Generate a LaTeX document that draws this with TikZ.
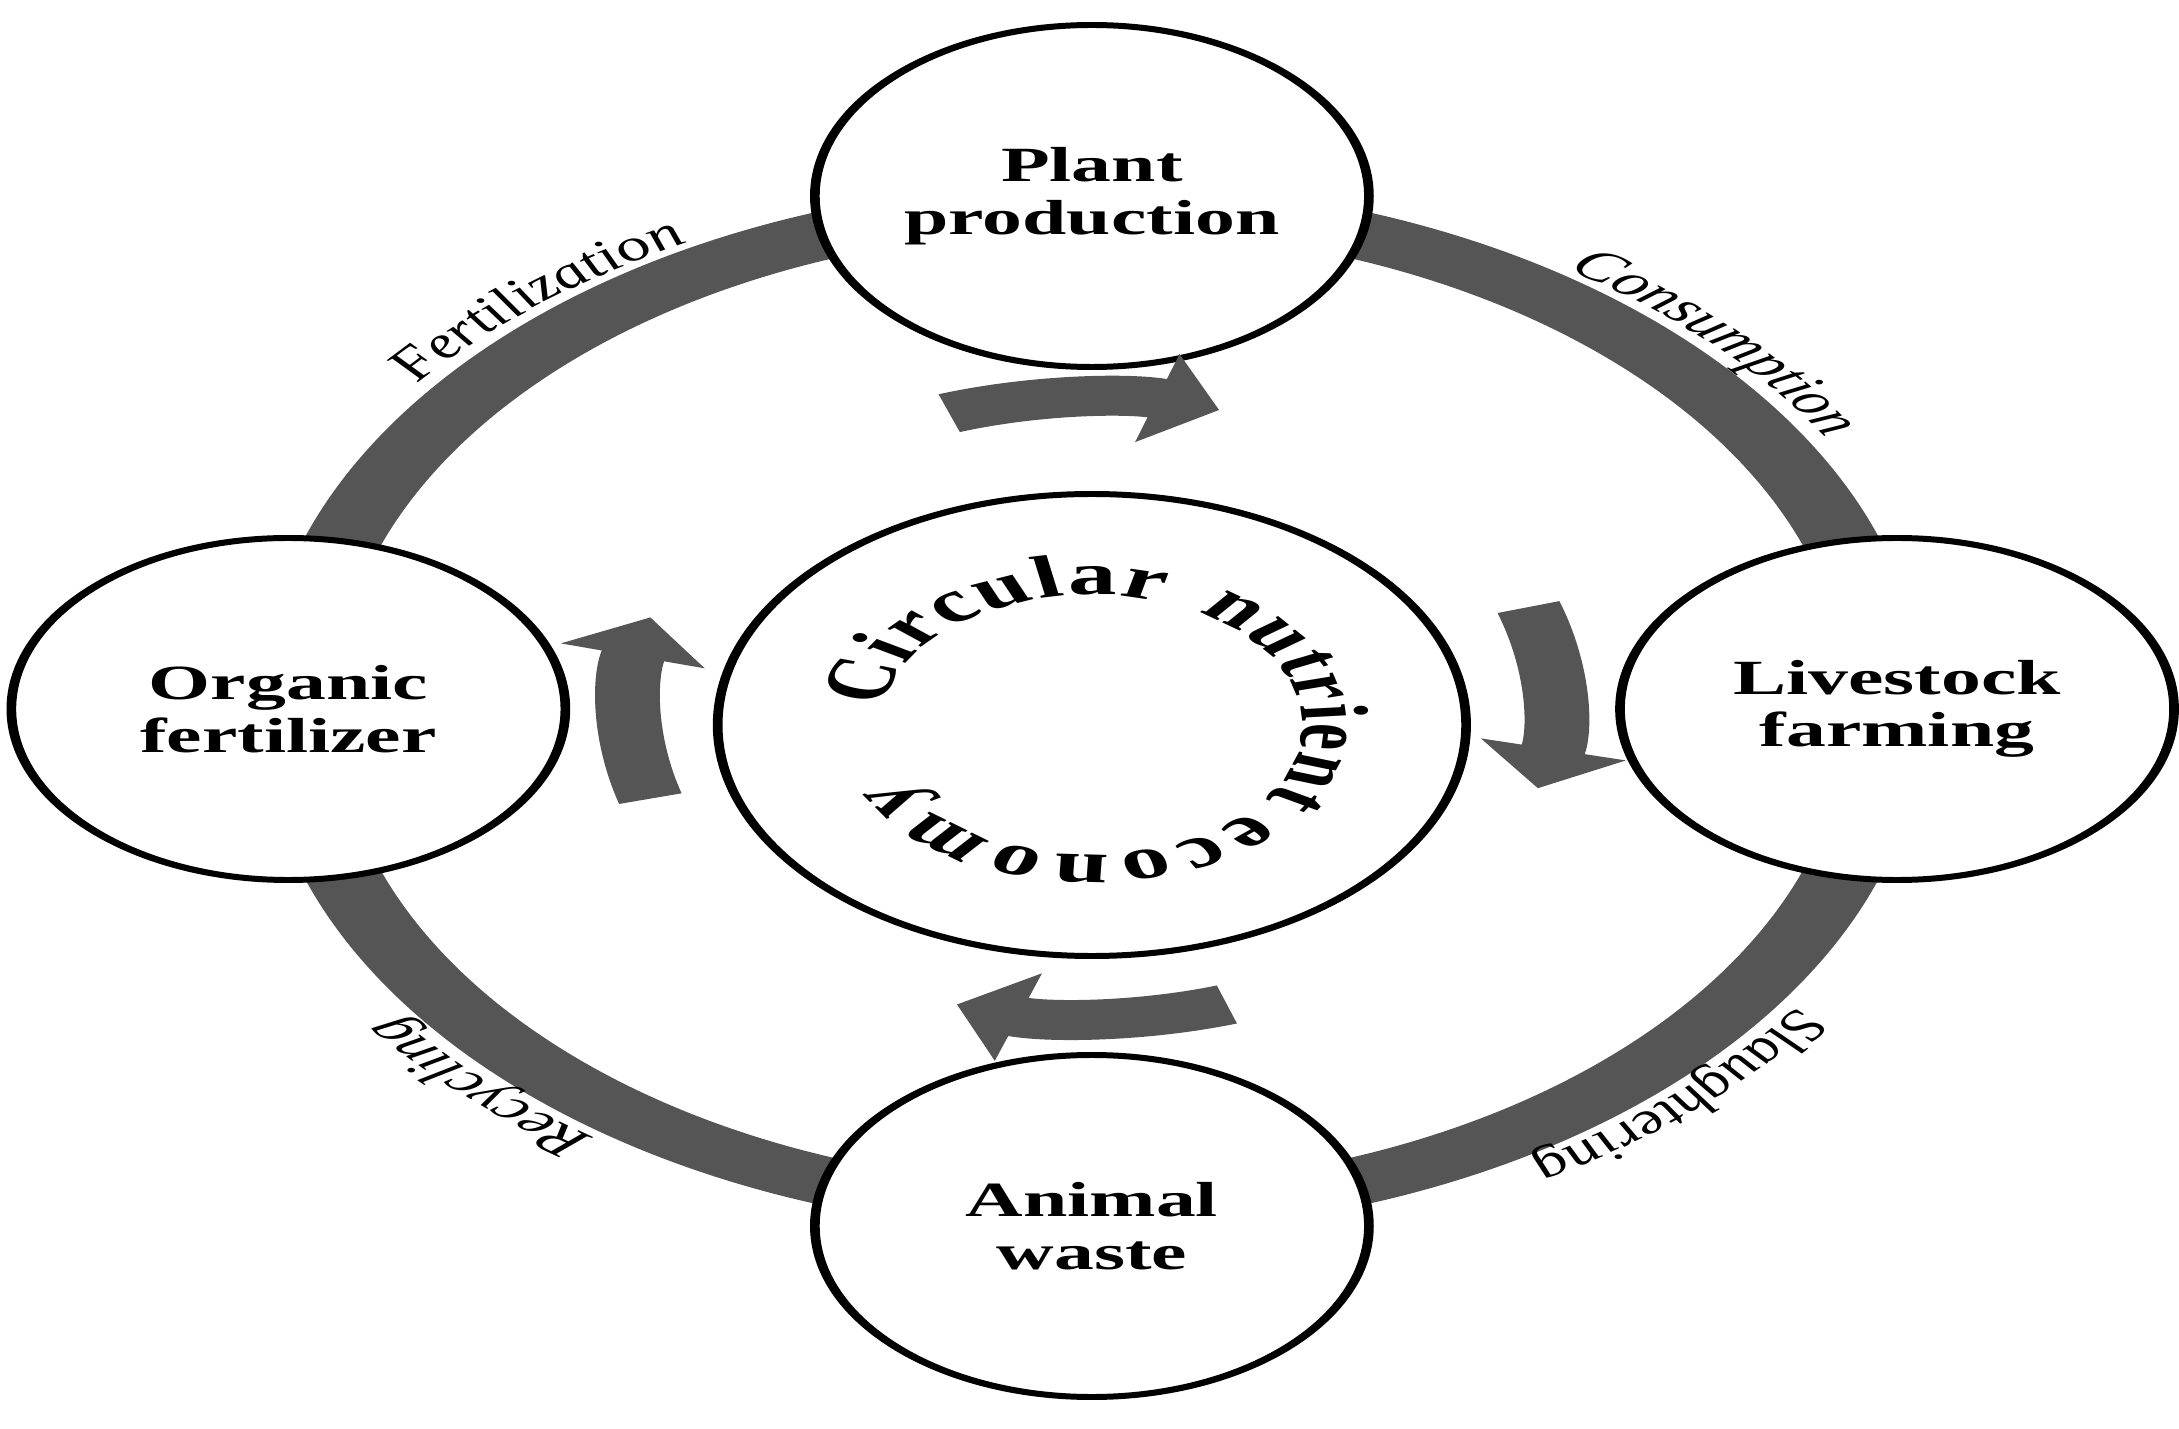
\documentclass[tikz,border=0pt]{standalone}
\usepackage{fontspec}
\setmainfont{Liberation Serif}
\usetikzlibrary{arrows.meta,decorations.text}
\definecolor{bandgray}{RGB}{85,85,85}
\newcommand\stagefont{\bfseries\fontsize{14}{15}\selectfont}
\newcommand\labfont{\itshape\fontsize{12.5}{15}\selectfont}
\newcommand\hubfont{\bfseries\fontsize{17}{20}\selectfont}
\tikzset{
	stagenode/.style={circle,draw,line width=1.7pt,fill=white,minimum size=3.42cm,inner sep=0pt,align=center,font=\stagefont},
	corebox/.style={circle,draw,line width=1.7pt,fill=white,minimum size=4.62cm,inner sep=0pt},
	band/.style={draw=bandgray,line width=0.47cm},
	flow/.style={bandgray,line width=0.4cm,-{Triangle[width=0.9cm,length=0.4cm]}},
	onring/.style={decorate,decoration={text along path,text align=center,text={|\labfont|#1}}},
	onhub/.style={decorate,decoration={text along path,text align=fit to path,text={|\hubfont|#1}}}
}
\begin{document}
\begin{tikzpicture}
	\useasboundingbox (0,0) rectangle (21.79,14.28);
	\begin{scope}[transform canvas={xscale=1.62}]
	\coordinate (ringc) at (6.74,7.2);
	% the big ring
	\draw [band] (ringc) ellipse [x radius=4.9cm,y radius=5.02cm];
	% stages
	\node [corebox] (core) at (6.74,7.03) {};
	\node [stagenode] (plant) at (6.74,12.32) {Plant\\production};
	\node [stagenode] (livestock) at (11.71,7.19) {Livestock\\farming};
	\node [stagenode] (waste) at (6.74,2.02) {Animal\\waste};
	\node [stagenode] (fertilizer) at (1.78,7.19) {Organic\\fertilizer};
	% inner arrows, clockwise
	\foreach \a in {108,19,287,197}
		\draw [flow] ([shift={(\a:2.85cm and 3.1cm)}]ringc) arc [start angle=\a,delta angle=-34,x radius=2.85cm,y radius=3.1cm];
	% labels on the ring
	\path [onring=Fertilization] ([shift={(150:5.28cm)}]ringc) arc [start angle=150,end angle=110,radius=5.28cm];
	\path [onring=Consumption] ([shift={(63.5:5.28cm)}]ringc) arc [start angle=63.5,end angle=23.5,radius=5.28cm];
	\path [onring=Slaughtering] ([shift={(-27:5.28cm)}]ringc) arc [start angle=-27,end angle=-67,radius=5.28cm];
	\path [onring=Recycling] ([shift={(245:5.28cm)}]ringc) arc [start angle=245,end angle=205,radius=5.28cm];
	% text round the centre
	\path [onhub=Circular] ([shift={(172:1.3cm)}]core.center) arc [start angle=172,end angle=71,radius=1.3cm];
	\path [onhub=nutrient] ([shift={(60:1.3cm)}]core.center) arc [start angle=60,end angle=-35,radius=1.3cm];
	\path [onhub=economy] ([shift={(-42:1.3cm)}]core.center) arc [start angle=-42,end angle=-155,radius=1.3cm];
	\end{scope}
\end{tikzpicture}
\end{document}
